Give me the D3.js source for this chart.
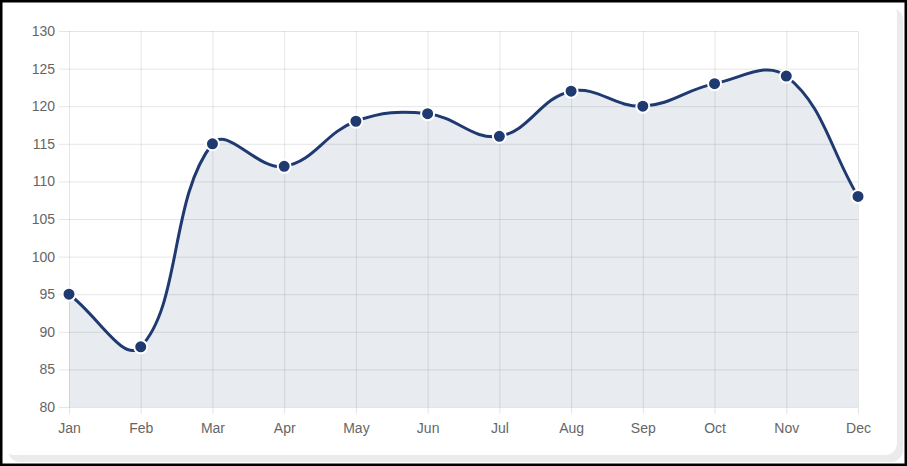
<!DOCTYPE html>
<html><head><meta charset="utf-8">
<script src="https://cdn.jsdelivr.net/npm/d3@7"></script>
<style>html,body{margin:0;padding:0;background:#fff;}svg{display:block;}</style>
</head><body>
<svg id="c" width="907" height="466"></svg>
<script>
const months = ["Jan","Feb","Mar","Apr","May","Jun","Jul","Aug","Sep","Oct","Nov","Dec"];
const values = [95,88,115,112,118,119,116,122,120,123,124,108];
const yTicks = [80,85,90,95,100,105,110,115,120,125,130];

const svg = d3.select("#c");
const W = 907, H = 466;
// frame
svg.append("rect").attr("x",0).attr("y",0).attr("width",W).attr("height",H).attr("fill","#fff");
svg.append("rect").attr("x",8).attr("y",8).attr("width",895).attr("height",454).attr("rx",12).attr("fill","#ebebeb");
svg.append("rect").attr("x",2).attr("y",2).attr("width",895).attr("height",453).attr("rx",12).attr("fill","#fff");
svg.append("rect").attr("x",1.25).attr("y",1.25).attr("width",W-2.5).attr("height",H-2.5).attr("fill","none").attr("stroke","#000").attr("stroke-width",2.5);

const L = 69, R = 858, T = 31, B = 407;
const x = d3.scalePoint().domain(months).range([L,R]);
const y = d3.scaleLinear().domain([80,130]).range([B,T]);

const grid = "rgba(0,0,0,0.1)";
const font = "Liberation Sans, Arial, Helvetica, sans-serif";
const g = svg.append("g");
const ya = d3.axisLeft(y).tickValues(yTicks).tickSize(-(R-L)).tickPadding(14);
const yg = g.append("g").attr("transform",`translate(${L},0)`).call(ya);
yg.select(".domain").remove();
yg.selectAll(".tick line").attr("stroke",grid).attr("x1",-10).attr("x2",R-L);
yg.selectAll("text").attr("fill","#666").style("font-family",font).style("font-size","14px");

const xa = d3.axisBottom(x).tickSize(-(B-T)).tickPadding(16);
const xg = g.append("g").attr("transform",`translate(0,${B})`).call(xa);
xg.select(".domain").remove();
xg.selectAll(".tick line").attr("stroke",grid).attr("y2",-(B-T)).attr("y1",7);
xg.selectAll("text").attr("fill","#666").style("font-family",font).style("font-size","14px");

// Chart.js style spline (tension 0.4)
const pts = values.map((v,i)=>({x:x(months[i]),y:y(v)}));
const t = 0.4;
pts.forEach((p,i)=>{
  const prev = pts[i-1]||p, next = pts[i+1]||p;
  const d01 = Math.hypot(p.x-prev.x,p.y-prev.y), d12 = Math.hypot(next.x-p.x,next.y-p.y);
  let s01 = d01/(d01+d12), s12 = d12/(d01+d12);
  if(isNaN(s01)) s01=0; if(isNaN(s12)) s12=0;
  const fa=t*s01, fb=t*s12;
  p.cpPrev={x:p.x-fa*(next.x-prev.x), y:p.y-fa*(next.y-prev.y)};
  p.cpNext={x:p.x+fb*(next.x-prev.x), y:p.y+fb*(next.y-prev.y)};
  p.cpPrev.y=Math.max(T,Math.min(B,p.cpPrev.y)); p.cpNext.y=Math.max(T,Math.min(B,p.cpNext.y));
});
function linePath(){
  const p = d3.path();
  p.moveTo(pts[0].x,pts[0].y);
  for(let i=1;i<pts.length;i++){
    const a=pts[i-1], b=pts[i];
    p.bezierCurveTo(a.cpNext.x,a.cpNext.y,b.cpPrev.x,b.cpPrev.y,b.x,b.y);
  }
  return p;
}
const lp = linePath().toString();
const last = pts[pts.length-1];
svg.append("path").attr("d", lp + `L${last.x},${B}L${pts[0].x},${B}Z`).attr("fill","rgba(31,58,112,0.1)");
svg.append("path").attr("d", lp).attr("fill","none").attr("stroke","#1f3a70").attr("stroke-width",3);
svg.selectAll("circle.pt").data(pts).enter().append("circle")
  .attr("cx",d=>d.x).attr("cy",d=>d.y).attr("r",6.5)
  .attr("fill","#1f3a70").attr("stroke","#fff").attr("stroke-width",2);
</script>
</body></html>
